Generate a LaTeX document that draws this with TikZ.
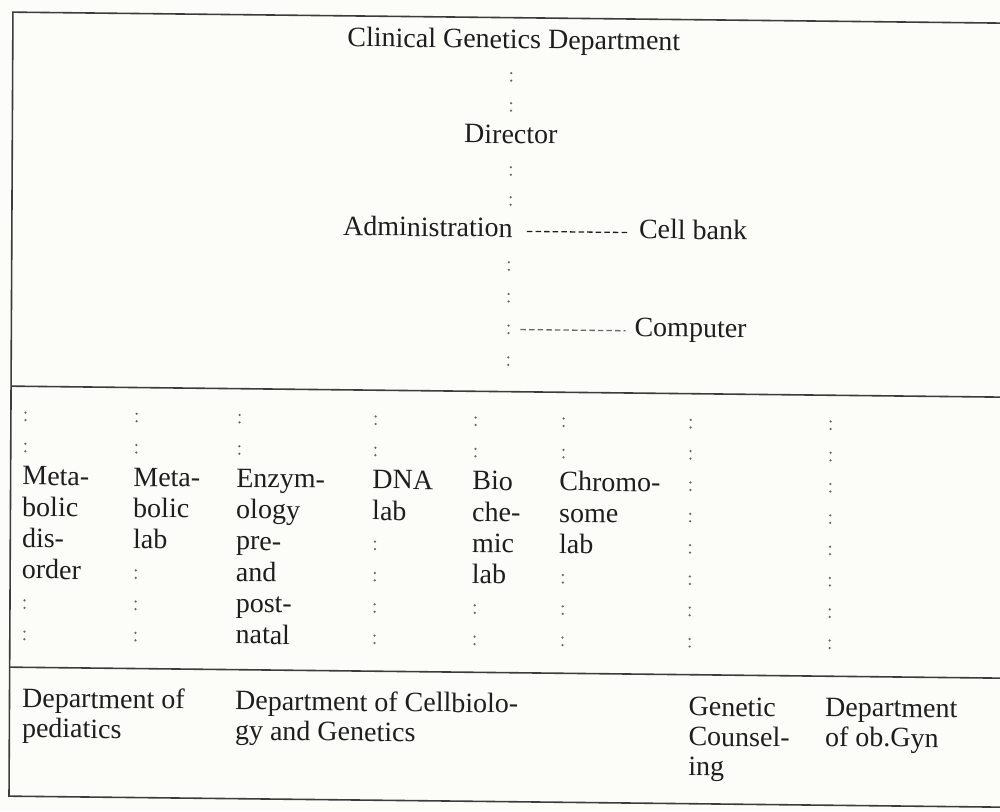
\documentclass[tikz,border=0pt]{standalone}
\usepackage{fontspec}
\setmainfont{Liberation Serif}
\usetikzlibrary{calc}
\definecolor{paper}{RGB}{252,252,248}
\definecolor{ink}{RGB}{30,30,30}
\definecolor{rulec}{RGB}{60,60,60}
\definecolor{dotc}{RGB}{105,105,105}
\begin{document}
\begin{tikzpicture}[x=1pt,y=-1pt,
  txt/.style={inner sep=0pt, anchor=base west, text=ink, align=left,
    font=\fontsize{28}{31.3}\selectfont},
  btxt/.style={txt, font=\fontsize{28}{30}\selectfont},
  ctxt/.style={txt, anchor=base},
  rulel/.style={draw=rulec, line width=1.6pt},
  colonchain/.style={draw=dotc, line width=2.5pt, line cap=round,
    dash pattern=on 0pt off 7.5pt on 0pt off #1},
  hyph/.style={draw=ink, line width=1.3pt, dash pattern=on 5.5pt off 3.1pt},
  hyphg/.style={hyph, draw=dotc}]
\useasboundingbox (0,0) rectangle (1000,811);
\fill[paper] (0,0) rectangle (1000,811);
\clip (0,0) rectangle (1000,811);
\begin{scope}[cm={1,-0.0111,0.005,1,(0,0)}, transform shape]
% table rules
\draw[rulel] (1015,12) -- (13,12) -- (13,796) -- (1015,796);
\draw[rulel] (13,386) -- (1015,386);
\draw[rulel] (13,667) -- (1015,667);

% top section
\node[ctxt] (title) at (514,42.7) {Clinical Genetics Department};
\node[ctxt] (director) at (511.5,137.8) {Director};
\node[txt] (admin) at (344,231.5) {Administration};
\node[txt] (cellbank) at (640,231.5) {Cell bank};
\node[txt] (computer) at (636,329.2) {Computer};
\coordinate (chainend) at (510,359.7);
\coordinate (compjoint) at (510,323.7);

\draw[colonchain=22.5pt] ($(title.base)+(-2.5,24.75)$) -- ($(director.base)+(0,-32.3)$);
\draw[colonchain=22.5pt] ($(director.base)+(0,23.75)$) -- ($(director.base |- admin.base)+(0,-32)$);
\draw[colonchain=24.2pt] ($(director.base |- admin.base)+(-1.5,25.05)$) -- (chainend);
\draw[hyph] ($(admin.base east)+(14,-6)$) -- ($(cellbank.base west)+(-10,-6)$);
\draw[hyphg] ($(compjoint)+(12,0)$) -- ($(computer.base west)+(-9,-5.5)$);

% middle columns (anchor = baseline of the last line)
\node[txt] (m1) at (24.6,578.4) {Meta-\\bolic\\dis-\\order};
\node[txt] (m2) at (135.6,547.1) {Meta-\\bolic\\lab};
\node[txt] (m3) at (238.6,641.0) {Enzym-\\ology\\pre-\\and\\post-\\natal};
\node[txt] (m4) at (374.6,515.8) {DNA\\lab};
\node[txt] (m5) at (474.6,578.4) {Bio\\che-\\mic\\lab};
\node[txt] (m6) at (561.6,547.1) {Chromo-\\some\\lab};
% row marks of the colon grid
\coordinate (utop) at (0,412.15);
\coordinate (ubot) at (0,451.45);
\coordinate (r5) at (0,537.35);
\coordinate (r6) at (0,568.65);
\coordinate (r7) at (0,599.95);
\coordinate (lbot) at (0,639.25);
\coordinate (g7) at (692.6,0);
\coordinate (g8) at (832.6,0);

\foreach \m/\dx in {m1/3,m2/3,m3/3,m4/3,m5/3,m6/4}
  \draw[colonchain=23.8pt] ($(\m.base west |- utop)+(\dx,0)$) -- ($(\m.base west |- ubot)+(\dx,0)$);
\foreach \m/\dx/\r in {m1/3/r7,m2/3/r6,m4/3/r5,m5/3/r7,m6/4/r6}
  \draw[colonchain=23.8pt] ($(\m.base west |- \r)+(\dx,0)$) -- ($(\m.base west |- lbot)+(\dx,0)$);
\draw[colonchain=23.8pt] (g7 |- utop) -- (g7 |- lbot);
\draw[colonchain=23.8pt] (g8 |- utop) -- (g8 |- lbot);

% bottom row (anchor = baseline of the last line)
\node[btxt] (b1) at (25.5,737) {Department of\\pediatics};
\node[btxt] (b2) at (238.5,737) {Department of Cellbiolo-\\gy and Genetics};
\node[btxt] (b3) at (692,768) {Genetic\\Counsel-\\ing};
\node[btxt] (b4) at (828.5,737) {Department\\of ob.Gyn};
\end{scope}
\end{tikzpicture}
\end{document}
